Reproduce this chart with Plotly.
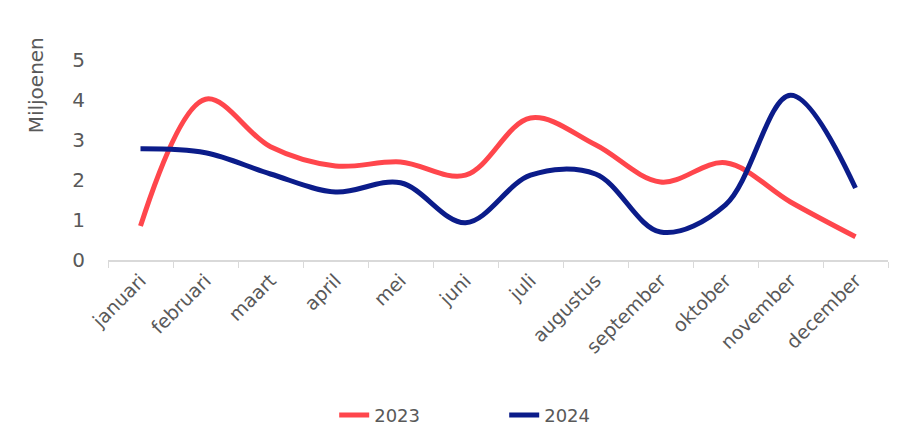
import plotly.graph_objects as go

months = ["januari", "februari", "maart", "april", "mei", "juni", "juli",
          "augustus", "september", "oktober", "november", "december"]
v2023 = [0.85, 4.02, 2.83, 2.35, 2.45, 2.12, 3.55, 2.88, 1.95, 2.43, 1.45, 0.58]
v2024 = [2.78, 2.68, 2.15, 1.7, 1.93, 0.93, 2.12, 2.15, 0.7, 1.38, 4.12, 1.8]

FONT = "DejaVu Sans, sans-serif"
GREY = "#595959"

fig = go.Figure()
fig.add_trace(go.Scatter(x=months, y=v2023, name="2023", mode="lines",
                         line=dict(color="#FF464C", width=5, shape="spline", smoothing=1)))
fig.add_trace(go.Scatter(x=months, y=v2024, name="2024", mode="lines",
                         line=dict(color="#0B1C8A", width=5, shape="spline", smoothing=1)))

fig.update_layout(
    width=904, height=441,
    margin=dict(l=108, r=16, t=40, b=181, autoexpand=False),
    paper_bgcolor="white", plot_bgcolor="white",
    font=dict(family=FONT, color=GREY),
    showlegend=True,
    legend=dict(orientation="h", x=0.29, xanchor="left", yref="container", y=0.058,
                yanchor="middle",
                font=dict(size=18, color=GREY), entrywidth=125, entrywidthmode="pixels"),
    xaxis=dict(type="category", tickson="boundaries", ticks="outside", ticklen=6,
               tickcolor="#d9d9d9", showline=True, linecolor="#d9d9d9", linewidth=2,
               showgrid=False, tickangle=-45, tickfont=dict(size=19, color=GREY),
               zeroline=False, range=[-0.5, 11.5], automargin=False),
    yaxis=dict(range=[0, 5.5], tickvals=[0, 1, 2, 3, 4, 5], showgrid=False,
               zeroline=False, showline=False, ticks="", ticklabelstandoff=22,
               tickfont=dict(size=20, color=GREY), automargin=False),
)
fig.add_annotation(text="Miljoenen", xref="paper", yref="paper", x=-0.092, y=0.795,
                   textangle=-90, showarrow=False, xanchor="center", yanchor="middle",
                   font=dict(size=20, color=GREY, family=FONT))

fig.write_html("out.html")
